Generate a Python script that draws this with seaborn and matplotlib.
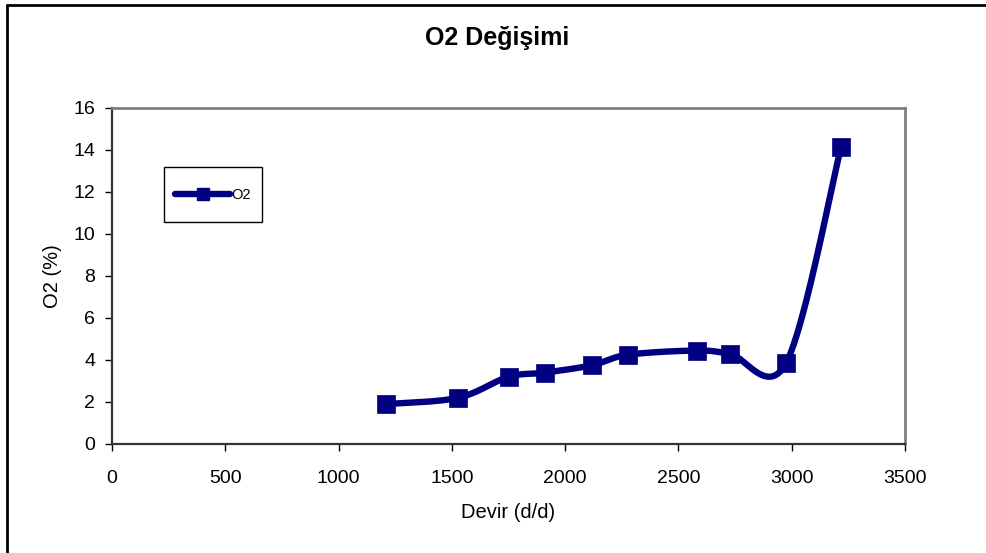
import numpy as np
import pandas as pd
import matplotlib
matplotlib.use("Agg")
import matplotlib.pyplot as plt
from matplotlib.lines import Line2D
from matplotlib.patches import Rectangle
import seaborn as sns

# Engine speed (rpm) and measured O2 (%)
devir = [1210, 1527, 1750, 1912, 2118, 2277, 2580, 2727, 2975, 3218]
o2 = [1.9, 2.2, 3.2, 3.4, 3.75, 4.25, 4.45, 4.3, 3.85, 14.15]

title = "O2 Değişimi"
xlabel = "Devir (d/d)"
ylabel = "O2 (%)"
series_name = "O2"
xticks = [0, 500, 1000, 1500, 2000, 2500, 3000, 3500]
yticks = [0, 2, 4, 6, 8, 10, 12, 14, 16]

NAVY = "#000080"


def smooth_curve(x, y, n=40):
    """Catmull-Rom style Bezier smoothing through every point."""
    p = np.column_stack([x, y]).astype(float)
    pts = []
    for i in range(len(p) - 1):
        p0 = p[i - 1] if i > 0 else p[i]
        p1, p2 = p[i], p[i + 1]
        p3 = p[i + 2] if i + 2 < len(p) else p[i + 1]
        c1 = p1 + (p2 - p0) / 6.0
        c2 = p2 - (p3 - p1) / 6.0
        t = np.linspace(0, 1, n)[:, None]
        seg = ((1 - t) ** 3) * p1 + 3 * ((1 - t) ** 2) * t * c1 \
            + 3 * (1 - t) * t ** 2 * c2 + t ** 3 * p2
        pts.append(seg if i == 0 else seg[1:])
    return np.vstack(pts)


sns.set_theme(style="white")
plt.rcParams["font.family"] = ["Liberation Sans", "DejaVu Sans"]
plt.rcParams["text.color"] = "black"
plt.rcParams["axes.labelcolor"] = "black"

fig = plt.figure(figsize=(9.87, 5.53), dpi=100)
ax = fig.add_axes([112 / 987, 1 - 444 / 553, (905 - 112) / 987, (444 - 108) / 553])

curve = smooth_curve(devir, o2)
curve_df = pd.DataFrame({"x": curve[:, 0], "y": curve[:, 1]})
pts_df = pd.DataFrame({"x": devir, "y": o2})

sns.lineplot(data=curve_df, x="x", y="y", ax=ax, color=NAVY, linewidth=4.6,
             sort=False, estimator=None, legend=False, zorder=3)
sns.scatterplot(data=pts_df, x="x", y="y", ax=ax, marker="s", s=150,
                color=NAVY, edgecolor=NAVY, linewidth=0.5, legend=False, zorder=4)

ax.set_xlim(0, 3500)
ax.set_ylim(0, 16)
ax.set_xticks(xticks)
ax.set_yticks(yticks)
ax.set_xticklabels([str(v) for v in xticks])
ax.set_yticklabels([str(v) for v in yticks])
ax.tick_params(axis="both", labelsize=14, colors="black", length=5, width=1,
               direction="out", pad=7)
ax.tick_params(axis="x", bottom=True, pad=14)
ax.tick_params(axis="y", left=True)

for side in ("left", "bottom"):
    ax.spines[side].set_color("#333333")
    ax.spines[side].set_linewidth(1.6)
for side in ("top", "right"):
    ax.spines[side].set_color("#808080")
    ax.spines[side].set_linewidth(2)
ax.grid(False)

ax.set_xlabel(xlabel, fontsize=14.5, labelpad=11)
ax.set_ylabel(ylabel, fontsize=14.5, labelpad=8)
fig.text(497 / 987, 1 - 38 / 553, title, ha="center", va="center",
         fontsize=18, fontweight="bold")

# Legend box
fig.patches.append(Rectangle((164 / 987, 1 - 222 / 553), 98 / 987, 55 / 553,
                             transform=fig.transFigure, facecolor="white",
                             edgecolor="black", linewidth=1, zorder=5))
handle = Line2D([], [], color=NAVY, linewidth=4.6, marker="s", markersize=9)
leg = fig.legend([handle], [series_name], loc="center left",
                 bbox_to_anchor=(175 / 987, 1 - 195 / 553), frameon=False,
                 fontsize=10.5, handlelength=3.8, handletextpad=0.05,
                 borderpad=0, borderaxespad=0)
leg.set_zorder(6)

# Outer chart border (top and left edges)
fig.add_artist(Line2D([7 / 987, 1], [1 - 5 / 553, 1 - 5 / 553],
                      transform=fig.transFigure, color="black", linewidth=2))
fig.add_artist(Line2D([7 / 987, 7 / 987], [0, 1 - 5 / 553],
                      transform=fig.transFigure, color="black", linewidth=2))

fig.savefig("out.png", dpi=100, facecolor="white")
